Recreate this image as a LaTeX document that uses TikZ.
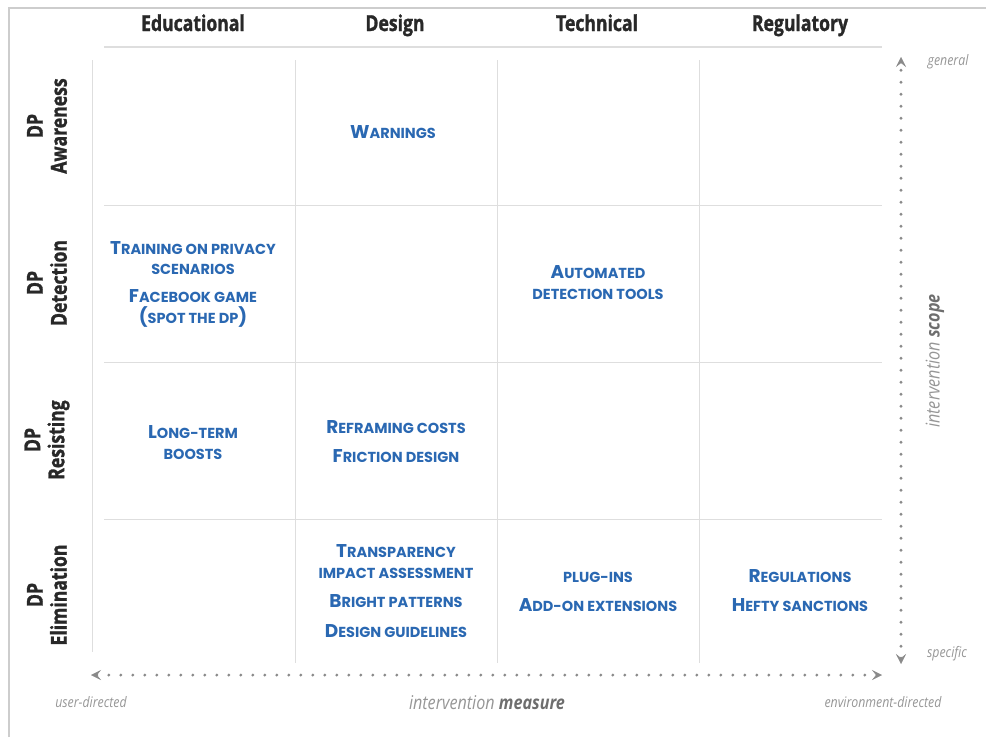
\documentclass[tikz,border=0pt]{standalone}
\usepackage{fontspec}
\setmainfont{Open Sans}
\newfontfamily\headfont{Open Sans}[FakeStretch=0.8, FakeBold=1.3]
\newfontfamily\cellfont{Poppins}
\newfontfamily\axisfont{Open Sans}[FakeStretch=0.85]
\usetikzlibrary{arrows.meta}
\definecolor{cellblue}{RGB}{42,104,178}
\definecolor{headgray}{RGB}{40,40,40}
\definecolor{gridgray}{RGB}{222,222,222}
\definecolor{framegray}{RGB}{205,205,205}
\definecolor{axisgray}{RGB}{150,150,150}
\definecolor{dotgray}{RGB}{138,138,138}
\definecolor{axisdark}{RGB}{110,110,110}
\tikzset{>={Stealth[length=10pt,width=10pt,inset=4pt,line width=0.4pt]}}
\newcommand\Ini[1]{{\fontsize{18.5}{21}\selectfont #1}}

\begin{document}
\begin{tikzpicture}[x=1pt, y=-1pt]
    \tikzset{%
      head/.style={font=\headfont\bfseries\fontsize{22}{24}\selectfont, text=headgray, anchor=base},
      rowlab/.style={head, anchor=center, rotate=90, align=center},
      cell/.style={font=\cellfont\bfseries\fontsize{14.5}{20.5}\selectfont, text=cellblue, align=center, anchor=base},
      gridline/.style={draw=gridgray, line width=1pt},
      axis/.style={draw=dotgray, line width=3.2pt, line cap=round, dash pattern=on 0pt off 12pt, <->},
      axlab/.style={font=\axisfont\itshape\fontsize{14.5}{16}\selectfont, text=axisgray},
      axtitle/.style={axlab, font=\axisfont\itshape\fontsize{19}{21}\selectfont}
      }
     \useasboundingbox (0,0) rectangle (986,737);
     \draw [framegray, line width=2pt] (9,737) -- (9,8) -- (986,8);

     \node [head] (hEdu) at (193,31) {Educational};
     \node [head] (hDes) at (395,31) {Design};
     \node [head] (hTec) at (597,31) {Technical};
     \node [head] (hReg) at (800,31) {Regulatory};

     \draw [gridline, line width=1.5pt] (104,47) -- (882,47);
     \draw [gridline] (104,205) -- (882,205);
     \draw [gridline] (104,362) -- (882,362);
     \draw [gridline] (104,519) -- (882,519);
     \draw [gridline] (92,60) -- (92,652);
     \draw [gridline] (295,60) -- (295,663);
     \draw [gridline] (497,60) -- (497,663);
     \draw [gridline] (699,60) -- (699,663);

     \node [rowlab] (rAwa) at (47,126) {DP\\Awareness};
     \node [rowlab] (rDet) at (47,283) {DP\\Detection};
     \node [rowlab] (rRes) at (47,440) {DP\\Resisting};
     \node [rowlab] (rEli) at (47,595) {DP\\Elimination};

     \node [cell] (cWarn) at (393,138) {\Ini{W}ARNINGS};
     \node [cell] (cTrain) at (193,323) {\Ini{T}RAINING ON PRIVACY\\SCENARIOS\\[7.5pt]\Ini{F}ACEBOOK GAME\\\Ini{(}SPOT THE DP\Ini{)}};
     \node [cell] (cAuto) at (598,299) {\Ini{A}UTOMATED\\DETECTION TOOLS};
     \node [cell] (cBoost) at (193,459) {\Ini{L}ONG-TERM\\BOOSTS};
     \node [cell] (cFric) at (396,462) {\Ini{R}EFRAMING COSTS\\[8.5pt]\Ini{F}RICTION DESIGN};
     \node [cell] (cTrans) at (396,637) {\Ini{T}RANSPARENCY\\IMPACT ASSESSMENT\\[9pt]\Ini{B}RIGHT PATTERNS\\[9pt]\Ini{D}ESIGN GUIDELINES};
     \node [cell] (cPlug) at (598,611) {PLUG-INS\\[8.5pt]\Ini{A}DD-ON EXTENSIONS};
     \node [cell] (cReg) at (800,611) {\Ini{R}EGULATIONS\\[8.5pt]\Ini{H}EFTY SANCTIONS};

     \coordinate (scopeTop) at (901,57);
     \coordinate (scopeBot) at (901,664);
     \draw [axis] (scopeBot) -- (scopeTop);
     \coordinate (measLeft) at (91,675);
     \coordinate (measRight) at (882,675);
     \draw [axis] (measLeft) -- (measRight);

     \node [axlab] (gen) at (948,62) {general};
     \node [axlab] (spec) at (947,654) {specific};
     \node [axlab] (userDir) at (91,702) {user-directed};
     \node [axlab] (envDir) at (883,702) {environment-directed};
     \node [axtitle] (measLab) at (487,703) {intervention \textcolor{axisdark}{\bfseries measure}};
     \node [axtitle, rotate=90] (scopeLab) at (935,361) {intervention \textcolor{axisdark}{\bfseries scope}};
  \end{tikzpicture}
\end{document}
